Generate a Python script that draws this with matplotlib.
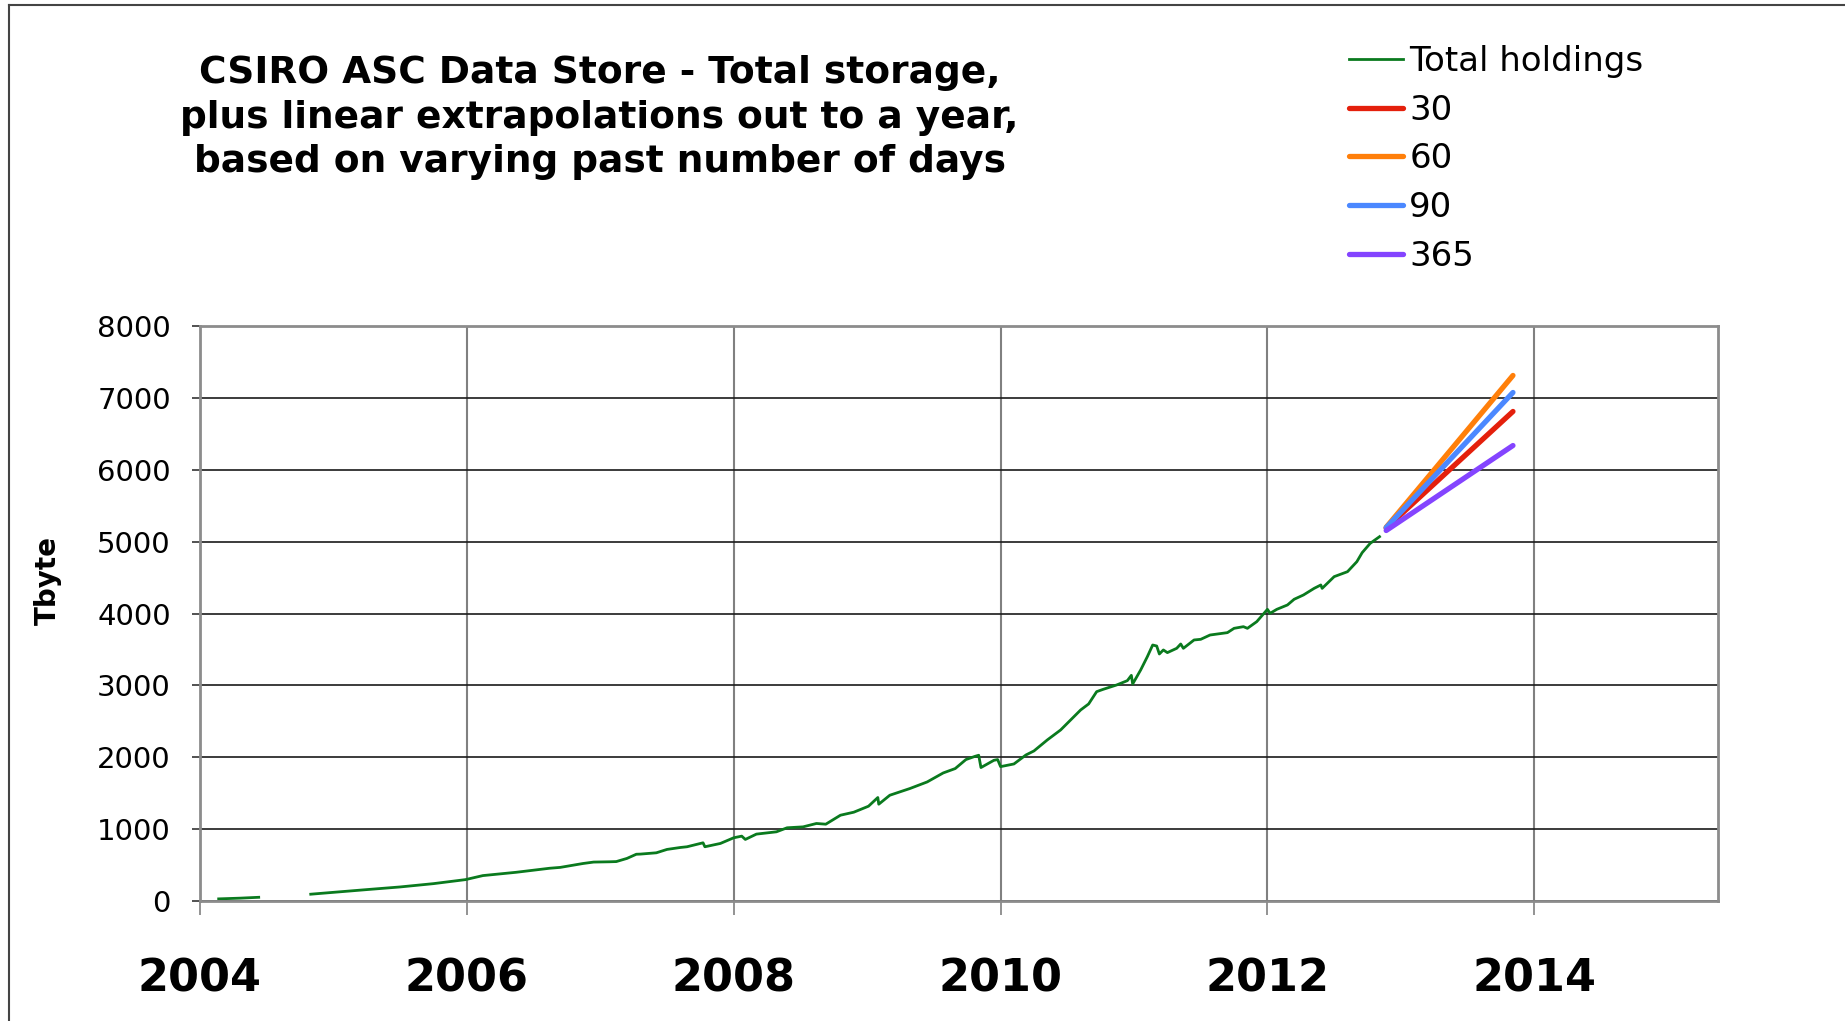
import numpy as np
import matplotlib.pyplot as plt
from matplotlib.lines import Line2D

# total holdings (Tbyte), decimal year; NaN marks the data gap in 2004
years = [2004.14, 2004.30, 2004.44, 2004.60,
         2004.83, 2005.00, 2005.25, 2005.50, 2005.75, 2005.99, 2006.12, 2006.37,
         2006.62, 2006.70, 2006.87, 2006.95, 2007.07, 2007.12, 2007.20, 2007.27,
         2007.30, 2007.42, 2007.50, 2007.60, 2007.65, 2007.77, 2007.784, 2007.90,
         2008.00, 2008.06, 2008.087, 2008.17, 2008.32, 2008.40, 2008.52, 2008.62,
         2008.69, 2008.80, 2008.90, 2009.01, 2009.08, 2009.087, 2009.17, 2009.32,
         2009.45, 2009.57, 2009.66, 2009.74, 2009.81, 2009.836, 2009.853, 2009.95,
         2009.978, 2010.00, 2010.10, 2010.19, 2010.25, 2010.35, 2010.45, 2010.525,
         2010.60, 2010.66, 2010.72, 2010.77, 2010.87, 2010.95, 2010.98, 2010.99,
         2011.05, 2011.10, 2011.14, 2011.17, 2011.19, 2011.22, 2011.25, 2011.32,
         2011.35, 2011.37, 2011.45, 2011.50, 2011.57, 2011.70, 2011.75, 2011.82,
         2011.85, 2011.92, 2012.00, 2012.02, 2012.07, 2012.15, 2012.20, 2012.27,
         2012.35, 2012.40, 2012.41, 2012.50, 2012.60, 2012.67, 2012.71, 2012.77,
         2012.84]
holdings = [30, 40, 52, np.nan,
            95, 121, 159, 196, 242, 298, 354, 400,
            456, 468, 522, 542, 546, 549, 593, 651,
            653, 671, 718, 745, 755, 810, 755, 801,
            880, 903, 857, 931, 963, 1019, 1032, 1079,
            1069, 1194, 1236, 1319, 1440, 1347, 1472, 1565,
            1657, 1782, 1843, 1968, 2014, 2028, 1857, 1958,
            1968, 1870, 1907, 2032, 2088, 2241, 2380, 2519,
            2658, 2742, 2913, 2946, 3006, 3066, 3140, 3020,
            3215, 3400, 3562, 3548, 3437, 3493, 3456, 3516,
            3576, 3516, 3632, 3641, 3701, 3734, 3794, 3817,
            3794, 3887, 4058, 4003, 4058, 4119, 4198, 4258,
            4350, 4397, 4350, 4513, 4582, 4721, 4847, 4976,
            5069]

# one-year linear extrapolations, keyed by number of past days used
extrap_years = [2012.89, 2013.84]
extrap = {
    '30': [5190, 6811],
    '60': [5200, 7312],
    '90': [5195, 7075],
    '365': [5155, 6337],
}
extrap_colors = {'30': '#e4200c', '60': '#ff7f0a', '90': '#4b88ff', '365': '#8444ff'}

xticks = [2004, 2006, 2008, 2010, 2012, 2014]
yticks = [0, 1000, 2000, 3000, 4000, 5000, 6000, 7000, 8000]

title = ('CSIRO ASC Data Store - Total storage,\n'
         'plus linear extrapolations out to a year,\n'
         'based on varying past number of days')

fig = plt.figure(figsize=(18.45, 10.21), dpi=100)
ax = fig.add_axes([0.1084, 0.1175, 0.8230, 0.5632])

ax.plot(years, holdings, color='#0a7a1e', lw=2.0, label='Total holdings')
for k in ['30', '60', '90', '365']:
    ax.plot(extrap_years, extrap[k], color=extrap_colors[k], lw=3.8,
            solid_capstyle='round', label=k)

ax.set_xlim(2004, 2015.38)
ax.set_ylim(0, 8000)
ax.set_xticks(xticks, labels=[str(t) for t in xticks], fontsize=32, fontweight='bold')
ax.set_yticks(yticks, labels=[str(t) for t in yticks], fontsize=21)

ax.set_axisbelow(True)
ax.yaxis.grid(True, color='#1a1a1a', lw=1.2)
ax.xaxis.grid(True, color='#808080', lw=1.5)
for s in ax.spines.values():
    s.set_color('#8c8c8c')
    s.set_linewidth(2)
ax.tick_params(axis='x', length=10, width=1.2, color='#808080', pad=30.5)
ax.tick_params(axis='y', length=6, width=1.2, color='#333333', pad=15)

ax.set_ylabel('Tbyte', fontsize=20, fontweight='bold')
ax.yaxis.set_label_coords(-0.091, 0.558)

fig.text(0.325, 1 - 55/1021, title, ha='center', va='top', fontsize=27,
         fontweight='bold', linespacing=1.31)

ax.legend(loc='upper left', bbox_to_anchor=(1349/1845, 1 - 45/1021),
          bbox_transform=fig.transFigure, frameon=False, fontsize=24.5,
          handlelength=1.6, handletextpad=0.17, labelspacing=0.46,
          borderpad=0, borderaxespad=0)

# thin frame on top and left edges, as in the original export
fig.add_artist(Line2D([9/1845, 1], [1 - 5/1021] * 2, transform=fig.transFigure,
                      color='#444444', lw=1.5))
fig.add_artist(Line2D([9/1845] * 2, [0, 1 - 5/1021], transform=fig.transFigure,
                      color='#444444', lw=1.5))

fig.savefig('out.png', dpi=100)
